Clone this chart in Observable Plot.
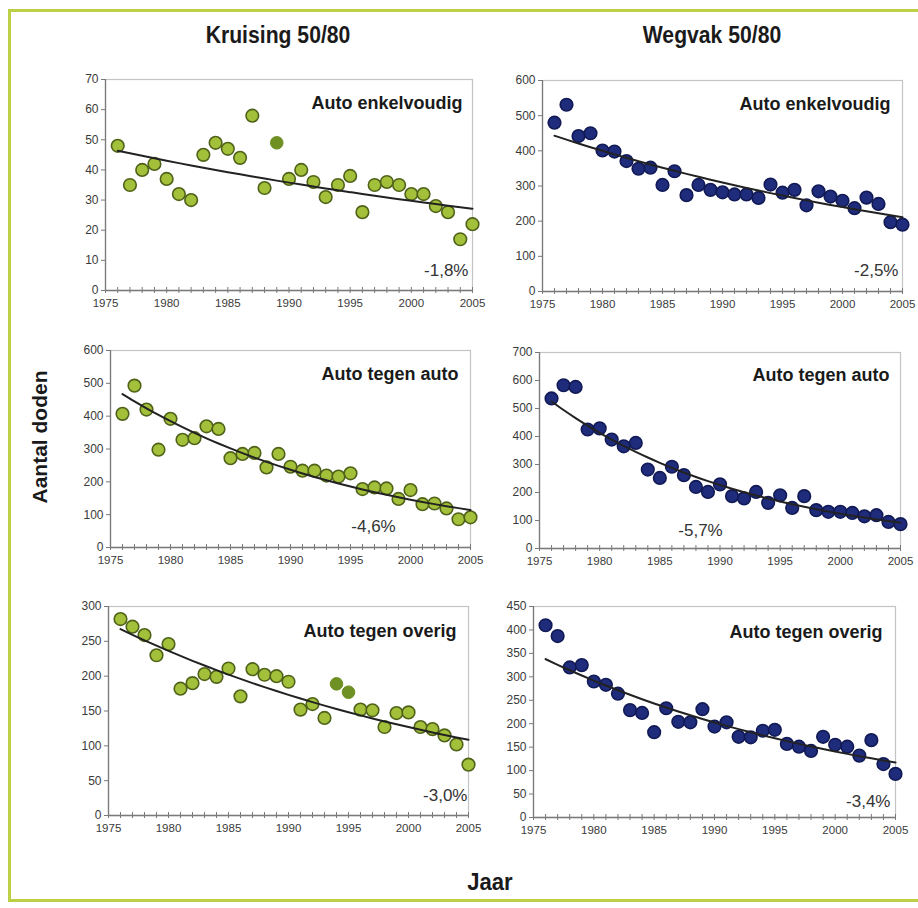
<!DOCTYPE html>
<html>
<head>
<meta charset="utf-8">
<script src="https://cdn.jsdelivr.net/npm/d3@7"></script>
<script src="https://cdn.jsdelivr.net/npm/@observablehq/plot@0.6"></script>
<style>
  html, body { margin: 0; padding: 0; background: #fff; }
  #page { position: relative; width: 918px; height: 908px; overflow: hidden; background: #fff; }
  #border { position: absolute; left: 8px; top: 9px; width: 930px; height: 893px; border: 3px solid #bccf45; box-sizing: border-box; }
  .t { position: absolute; font-family: "Liberation Sans Narrow", "Liberation Sans", Arial, sans-serif; font-weight: bold; color: #1a1a1a; white-space: nowrap; }
  .panel { position: absolute; }
</style>
</head>
<body>
<div id="page">
  <div id="border"></div>
  <div class="t" style="left:278px; top:35px; transform:translate(-50%,-50%) scaleX(0.92); font-size:23px;">Kruising 50/80</div>
  <div class="t" style="left:712px; top:35px; transform:translate(-50%,-50%) scaleX(0.92); font-size:23px;">Wegvak 50/80</div>
  <div class="t" style="left:40px; top:437px; transform:translate(-50%,-50%) rotate(-90deg); font-size:21px; font-family:'Liberation Sans', Arial, sans-serif;">Aantal doden</div>
  <div class="t" style="left:490px; top:882px; transform:translate(-50%,-50%) scaleX(0.92); font-size:24px;">Jaar</div>
</div>
<script>
// ---- data ----
const years = d3.range(1976, 2006);
const kruisingEnkel  = [48,35,40,42,37,32,30,45,49,47,44,58,34,49,37,40,36,31,35,38,26,35,36,35,32,32,28,26,17,22];
const wegvakEnkel    = [480,531,442,450,401,398,371,349,352,303,342,274,303,289,282,276,276,266,304,281,289,245,285,270,258,237,267,249,197,190];
const kruisingAuto   = [407,493,420,298,392,328,333,369,361,272,285,288,244,285,246,234,234,219,216,226,178,183,180,148,175,132,134,119,86,92];
const wegvakAuto     = [536,583,577,425,429,389,365,377,282,252,292,262,220,202,229,187,179,202,163,190,145,187,137,131,131,127,115,119,95,87];
const kruisingOverig = [282,271,259,230,246,182,190,203,199,211,171,210,202,200,192,152,160,140,189,177,152,151,127,147,148,127,124,115,102,73];
const wegvakOverig   = [410,387,320,325,290,283,264,229,223,182,233,204,203,231,194,203,172,171,185,187,157,151,142,172,155,151,132,165,114,93];
const panelTitles = ["Auto enkelvoudig","Auto enkelvoudig","Auto tegen auto","Auto tegen auto","Auto tegen overig","Auto tegen overig"];
const pctLabels   = ["-1,8%","-2,5%","-4,6%","-5,7%","-3,0%","-3,4%"];
const yMax        = [70, 600, 600, 700, 300, 450];
const yStep       = [10, 100, 100, 100, 50, 50];
const darkYears   = [[1989], [], [], [], [1994, 1995], []];
const seriesList  = [kruisingEnkel, wegvakEnkel, kruisingAuto, wegvakAuto, kruisingOverig, wegvakOverig];
const xTicks = d3.range(1975, 2006);
const xLabels = d3.range(1975, 2006, 5);

// ---- layout (plot area in page px) ----
const layout = [
  {x0:105, x1:472, y0:79,  y1:290, title:{dx:-10, dy:24}, pct:{anchor:"bottom-right", dx:-4, dy:-20, ta:"end"}},
  {x0:542, x1:902, y0:80,  y1:291, title:{dx:-12, dy:24}, pct:{anchor:"bottom-right", dx:-4, dy:-21, ta:"end"}},
  {x0:110, x1:470, y0:350, y1:547, title:{dx:-12, dy:24}, pct:{anchor:"bottom-left", dx:263, dy:-21, ta:"middle"}},
  {x0:539, x1:900, y0:352, y1:548, title:{dx:-11, dy:23}, pct:{anchor:"bottom-left", dx:161, dy:-18, ta:"middle"}},
  {x0:108, x1:468, y0:606, y1:815, title:{dx:-12, dy:25}, pct:{anchor:"bottom-right", dx:-1, dy:-20, ta:"end"}},
  {x0:533, x1:895, y0:606, y1:817, title:{dx:-13, dy:26}, pct:{anchor:"bottom-right", dx:-5, dy:-16, ta:"end"}}
];

const green = {fill:"#a3c03a", stroke:"#4f6219", dark:"#6f9022"};
const blue  = {fill:"#1f2c7c", stroke:"#111a55", dark:"#1f2c7c"};

function expFit(xs, ys) {
  const ly = ys.map(Math.log);
  const mx = d3.mean(xs), my = d3.mean(ly);
  let num = 0, den = 0;
  for (let i = 0; i < xs.length; i++) { num += (xs[i]-mx)*(ly[i]-my); den += (xs[i]-mx)**2; }
  const b = num/den, a = my - b*mx;
  return xs.map(x => ({year: x, value: Math.exp(a + b*x)}));
}

const page = document.getElementById("page");
const mL = 45, mT = 12, mR = 22, mB = 30;

seriesList.forEach((vals, i) => {
  const L = layout[i];
  const col = (i % 2 === 0) ? green : blue;
  const data = years.map((y, k) => ({year: y, value: vals[k], dark: darkYears[i].includes(y)}));
  const trend = expFit(years, vals);
  const w = (L.x1 - L.x0) + mL + mR;
  const h = (L.y1 - L.y0) + mT + mB;
  const chart = Plot.plot({
    width: w, height: h,
    marginLeft: mL, marginTop: mT, marginRight: mR, marginBottom: mB,
    style: {fontFamily: "'Liberation Sans', Arial, sans-serif", fontSize: "12px", color: "#3a3a3a", background: "transparent", overflow: "visible"},
    x: {domain: [1975, 2005], axis: null},
    y: {domain: [0, yMax[i]], axis: null},
    marks: [
      Plot.frame({stroke: "#c4c4c4", strokeWidth: 1.2}),
      Plot.ruleY([0], {stroke: "#7a7a7a", strokeWidth: 1.3}),
      Plot.ruleX([1975], {stroke: "#7a7a7a", strokeWidth: 1.3}),
      Plot.axisX(xTicks, {tickSize: 6, dy: -3, tickFormat: () => "", stroke: "#7a7a7a", label: null}),
      Plot.axisX(xLabels, {tickSize: 0, tickPadding: 8, fontSize: 11.5, tickFormat: d => String(d), label: null}),
      Plot.axisY(d3.range(0, yMax[i] + 1, yStep[i]), {tickSize: 4, tickPadding: 3, fontSize: 12, stroke: "#7a7a7a", label: null}),
      Plot.dot(data.filter(d => !d.dark), {x: "year", y: "value", r: 6.3, fill: col.fill, stroke: col.stroke, strokeWidth: 1.6}),
      Plot.dot(data.filter(d => d.dark), {x: "year", y: "value", r: 6.3, fill: col.dark, stroke: col.dark, strokeWidth: 1}),
      Plot.line(trend, {x: "year", y: "value", stroke: "#222", strokeWidth: 2, curve: "natural"}),
      Plot.text([panelTitles[i]], {frameAnchor: "top-right", dx: L.title.dx, dy: L.title.dy, lineAnchor: "middle", textAnchor: "end", fontSize: 18, fontWeight: "bold", fill: "#1a1a1a"}),
      Plot.text([pctLabels[i]], {frameAnchor: L.pct.anchor, dx: L.pct.dx, dy: L.pct.dy, lineAnchor: "middle", textAnchor: L.pct.ta, fontSize: 17, fill: "#333"})
    ]
  });
  chart.classList.add("panel");
  chart.style.left = (L.x0 - mL) + "px";
  chart.style.top = (L.y0 - mT) + "px";
  page.appendChild(chart);
});
</script>
</body>
</html>
